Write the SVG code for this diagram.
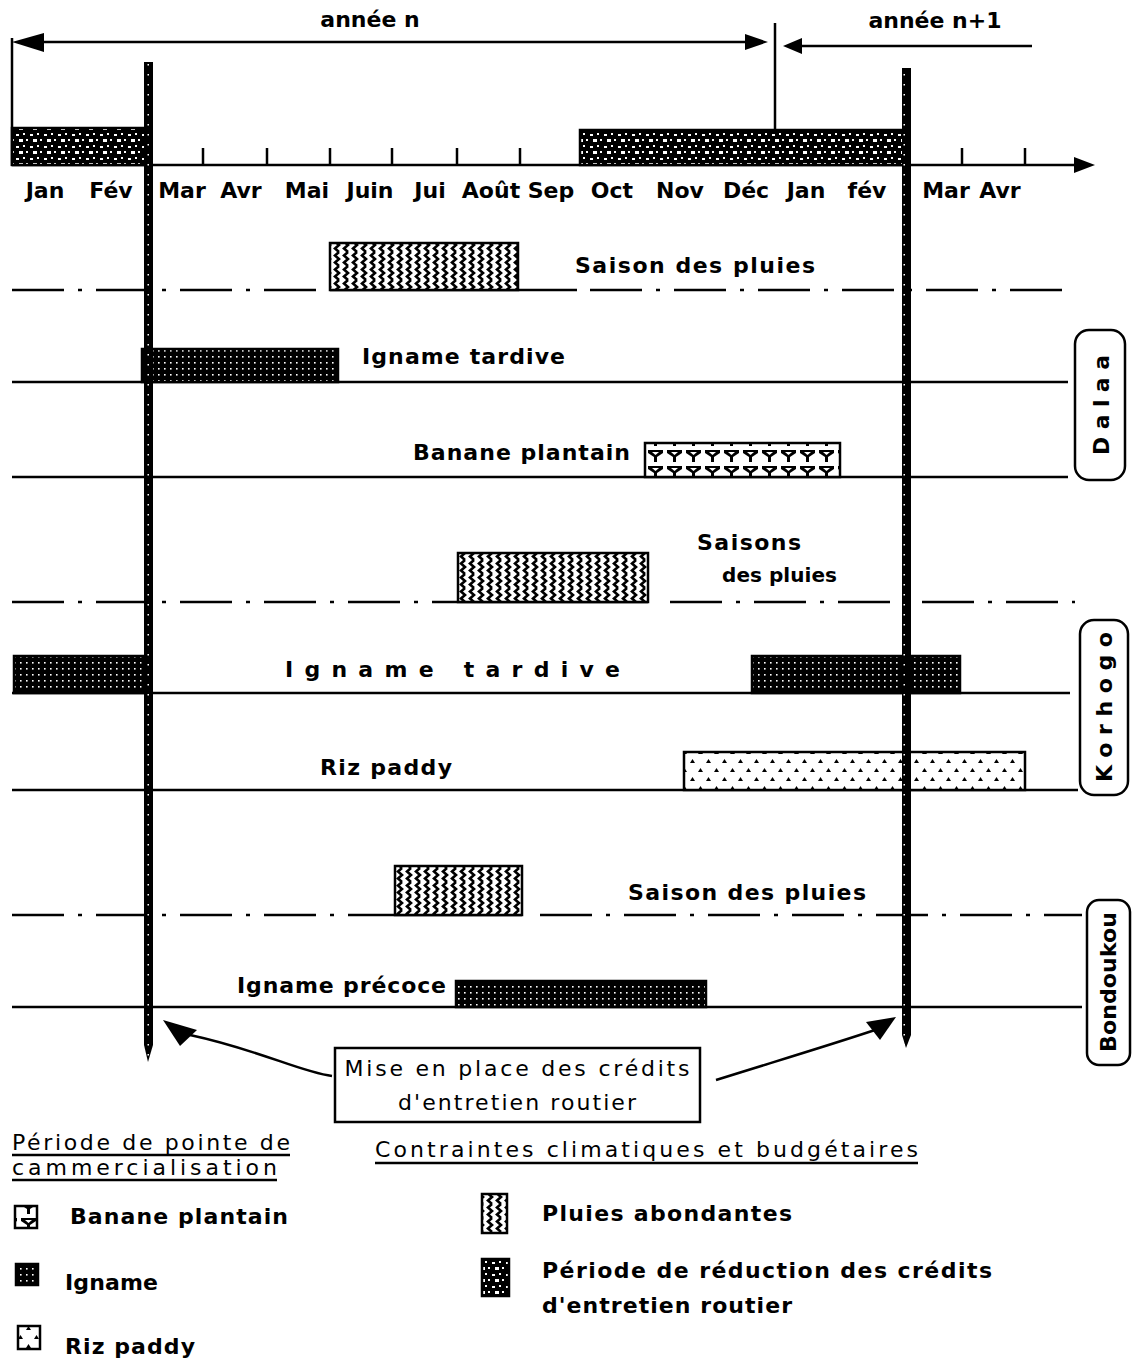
<svg xmlns="http://www.w3.org/2000/svg" width="1132" height="1361" viewBox="0 0 1132 1361">
<style>
text{font-family:"DejaVu Sans","Liberation Sans",Arial,sans-serif;font-size:22px;font-weight:bold;fill:#000}
.mo{text-anchor:middle}
.ln{stroke:#000;stroke-width:2.5;fill:none}
.dd{stroke:#000;stroke-width:2.5;fill:none;stroke-dasharray:52 14 4 14}
.bar{stroke:#000;stroke-width:2.5}
.box{fill:#fff;stroke:#000;stroke-width:2.5}
.lbl{fill:#fff;stroke:#000;stroke-width:2.5}
.nw{font-weight:normal}
</style>
<defs>
<pattern id="pRed" width="14" height="12" patternUnits="userSpaceOnUse">
<rect width="14" height="12" fill="#000"/>
<rect x="2" y="2" width="3" height="2" fill="#fff"/>
<rect x="9" y="1" width="2" height="2" fill="#fff"/>
<rect x="5" y="7" width="4" height="3" fill="#fff"/>
<rect x="12" y="7" width="2" height="2" fill="#fff"/>
</pattern>
<pattern id="pIgn" width="6" height="6" patternUnits="userSpaceOnUse">
<rect width="6" height="6" fill="#000"/>
<rect x="2" y="2" width="1.6" height="1.6" fill="#fff"/>
</pattern>
<pattern id="pPlu" width="9" height="14" patternUnits="userSpaceOnUse">
<rect width="9" height="14" fill="#fff"/>
<path d="M6 0 L2 3.5 L6 7 L2 10.5 L6 14" stroke="#000" stroke-width="2.6" fill="none"/>
</pattern>
<pattern id="pBan" width="19" height="16" patternUnits="userSpaceOnUse">
<rect width="19" height="16" fill="#fff"/>
<path d="M2 2 L9.5 2 L17 2 L17 5 L11 9 L11 14 L8 14 L8 9 L2 5 Z" fill="#000"/>
<path d="M6 4 L9.5 7 L13 4 Z" fill="#fff"/>
</pattern>
<pattern id="pRiz" width="16" height="18" patternUnits="userSpaceOnUse">
<rect width="16" height="18" fill="#fff"/>
<path d="M2 7 L4.5 3 L7 7 Z" fill="#000"/>
<path d="M10 16 L12.5 12 L15 16 Z" fill="#000"/>
</pattern>
<pattern id="pThk" width="9" height="10" patternUnits="userSpaceOnUse">
<rect width="9" height="10" fill="#000"/>
<rect x="3.5" y="4" width="1.5" height="1.5" fill="#fff"/>
</pattern>
</defs>

<g id="connectors">
<line class="ln" x1="40" y1="42" x2="750" y2="42"/>
<polygon points="12,42 44,33 44,52" fill="#000"/>
<polygon points="768,42 745,34 745,50" fill="#000"/>
<line class="ln" x1="12" y1="38" x2="12" y2="166"/>
<line class="ln" x1="775" y1="23" x2="775" y2="130"/>
<line class="ln" x1="800" y1="46" x2="1032" y2="46"/>
<polygon points="783,46 802,38 802,54" fill="#000"/>
<line class="ln" x1="12" y1="165" x2="1078" y2="165"/>
<polygon points="1095,165 1074,157 1074,173" fill="#000"/>
<g class="ln">
<line x1="203" y1="148" x2="203" y2="165"/>
<line x1="267" y1="148" x2="267" y2="165"/>
<line x1="330" y1="148" x2="330" y2="165"/>
<line x1="392" y1="148" x2="392" y2="165"/>
<line x1="457" y1="148" x2="457" y2="165"/>
<line x1="520" y1="148" x2="520" y2="165"/>
<line x1="962" y1="148" x2="962" y2="165"/>
<line x1="1025" y1="148" x2="1025" y2="165"/>
</g>
<path class="dd" d="M12 290 H330"/>
<path class="ln" d="M330 290 H577"/>
<path class="dd" d="M590 290 H1068"/>
<line class="ln" x1="12" y1="382" x2="1068" y2="382"/>
<line class="ln" x1="12" y1="477" x2="1068" y2="477"/>
<path class="dd" d="M12 602 H458"/>
<path class="ln" d="M458 602 H648"/>
<path class="dd" d="M670 602 H1075"/>
<line class="ln" x1="12" y1="693" x2="1070" y2="693"/>
<line class="ln" x1="12" y1="790" x2="1078" y2="790"/>
<path class="dd" d="M12 915 H395"/>
<path class="ln" d="M395 915 H522"/>
<path class="dd" d="M540 915 H1082"/>
<line class="ln" x1="12" y1="1007" x2="1082" y2="1007"/>
<path class="ln" d="M332 1076 C300 1072 260 1050 190 1035"/>
<polygon points="163,1020 197,1030 180,1046" fill="#000"/>
<path class="ln" d="M716 1080 C780 1060 830 1045 875 1030"/>
<polygon points="896,1017 866,1022 880,1040" fill="#000"/>
</g>

<g id="year-labels">
<text x="370" y="27" class="mo">année n</text>
<text x="935" y="28" class="mo">année n+1</text>
</g>

<g id="months">
<text x="45" y="198" class="mo">Jan</text>
<text x="111" y="198" class="mo">Fév</text>
<text x="182" y="198" class="mo">Mar</text>
<text x="241" y="198" class="mo">Avr</text>
<text x="307" y="198" class="mo">Mai</text>
<text x="370" y="198" class="mo">Juin</text>
<text x="430" y="198" class="mo">Jui</text>
<text x="491" y="198" class="mo">Août</text>
<text x="551" y="198" class="mo">Sep</text>
<text x="612" y="198" class="mo">Oct</text>
<text x="680" y="198" class="mo">Nov</text>
<text x="746" y="198" class="mo">Déc</text>
<text x="806" y="198" class="mo">Jan</text>
<text x="867" y="198" class="mo">fév</text>
<text x="946" y="198" class="mo">Mar</text>
<text x="1000" y="198" class="mo">Avr</text>
</g>

<g id="reduction-credits">
<rect class="bar" x="12" y="128" width="136" height="37" fill="url(#pRed)"/>
<rect class="bar" x="580" y="130" width="326" height="35" fill="url(#pRed)"/>
</g>

<g id="dalaa-pluies">
<rect class="bar" x="330" y="243" width="188" height="47" fill="url(#pPlu)"/>
<text x="575" y="273" textLength="240" lengthAdjust="spacing">Saison des pluies</text>
</g>
<g id="dalaa-igname">
<rect class="bar" x="142" y="349" width="196" height="33" fill="url(#pIgn)"/>
<text x="362" y="364" textLength="203" lengthAdjust="spacing">Igname tardive</text>
</g>
<g id="dalaa-banane">
<rect class="bar" x="645" y="443" width="195" height="34" fill="url(#pBan)"/>
<text x="413" y="460" textLength="217" lengthAdjust="spacing">Banane plantain</text>
</g>
<g id="label-dalaa">
<rect class="lbl" x="1075" y="330" width="50" height="150" rx="14"/>
<text transform="translate(1109,405) rotate(-90)" class="mo" textLength="100" lengthAdjust="spacing">Dalaa</text>
</g>

<g id="korhogo-pluies">
<rect class="bar" x="458" y="553" width="190" height="49" fill="url(#pPlu)"/>
<text x="697" y="550" textLength="104" lengthAdjust="spacing">Saisons</text>
<text x="722" y="582" textLength="115" lengthAdjust="spacing" style="font-size:20px">des pluies</text>
</g>
<g id="korhogo-igname">
<rect class="bar" x="14" y="656" width="129" height="37" fill="url(#pIgn)"/>
<rect class="bar" x="752" y="656" width="208" height="37" fill="url(#pIgn)"/>
<text x="285" y="677" textLength="335" lengthAdjust="spacing">Igname tardive</text>
</g>
<g id="korhogo-riz">
<rect class="bar" x="684" y="752" width="341" height="38" fill="url(#pRiz)"/>
<text x="320" y="775" textLength="132" lengthAdjust="spacing">Riz paddy</text>
</g>
<g id="label-korhogo">
<rect class="lbl" x="1080" y="620" width="48" height="175" rx="14"/>
<text transform="translate(1112,707) rotate(-90)" class="mo" textLength="150" lengthAdjust="spacing">Korhogo</text>
</g>

<g id="bondoukou-pluies">
<rect class="bar" x="395" y="866" width="127" height="49" fill="url(#pPlu)"/>
<text x="628" y="900" textLength="238" lengthAdjust="spacing">Saison des pluies</text>
</g>
<g id="bondoukou-igname">
<rect class="bar" x="456" y="981" width="250" height="26" fill="url(#pIgn)"/>
<text x="237" y="993" textLength="209" lengthAdjust="spacing">Igname précoce</text>
</g>
<g id="label-bondoukou">
<rect class="lbl" x="1087" y="900" width="43" height="165" rx="12"/>
<text transform="translate(1116,982) rotate(-90)" class="mo" textLength="140" lengthAdjust="spacing">Bondoukou</text>
</g>

<g id="credit-lines">
<path d="M144 62 H153 V1045 L148 1062 L144 1045 Z" fill="url(#pThk)"/>
<path d="M902 68 H911 V1035 L906 1048 L902 1035 Z" fill="url(#pThk)"/>
</g>

<g id="callout">
<rect class="box" x="335" y="1048" width="365" height="74"/>
<text x="517" y="1076" class="mo nw" textLength="345" lengthAdjust="spacing">Mise en place des crédits</text>
<text x="517" y="1110" class="mo nw" textLength="238" lengthAdjust="spacing">d'entretien routier</text>
</g>

<g id="legend-left">
<text x="12" y="1150" class="nw" textLength="278" lengthAdjust="spacing">Période de pointe de</text>
<text x="12" y="1175" class="nw" textLength="265" lengthAdjust="spacing">cammercialisation</text>
<line class="ln" x1="12" y1="1155" x2="290" y2="1155"/>
<line class="ln" x1="12" y1="1180" x2="277" y2="1180"/>
<rect class="bar" x="15" y="1206" width="22" height="22" fill="url(#pBan)"/>
<text x="70" y="1224" textLength="218" lengthAdjust="spacing">Banane plantain</text>
<rect class="bar" x="16" y="1264" width="22" height="21" fill="url(#pIgn)"/>
<text x="65" y="1290" textLength="93" lengthAdjust="spacing">Igname</text>
<rect class="bar" x="18" y="1326" width="22" height="23" fill="url(#pRiz)"/>
<text x="65" y="1354" textLength="130" lengthAdjust="spacing">Riz paddy</text>
</g>

<g id="legend-right">
<text x="375" y="1157" class="nw" textLength="543" lengthAdjust="spacing">Contraintes climatiques et budgétaires</text>
<line class="ln" x1="375" y1="1163" x2="918" y2="1163"/>
<rect class="bar" x="482" y="1194" width="25" height="39" fill="url(#pPlu)"/>
<text x="542" y="1221" textLength="250" lengthAdjust="spacing">Pluies abondantes</text>
<rect class="bar" x="482" y="1259" width="27" height="37" fill="url(#pRed)"/>
<text x="542" y="1278" textLength="450" lengthAdjust="spacing">Période de réduction des crédits</text>
<text x="542" y="1313" textLength="250" lengthAdjust="spacing">d'entretien routier</text>
</g>
</svg>
